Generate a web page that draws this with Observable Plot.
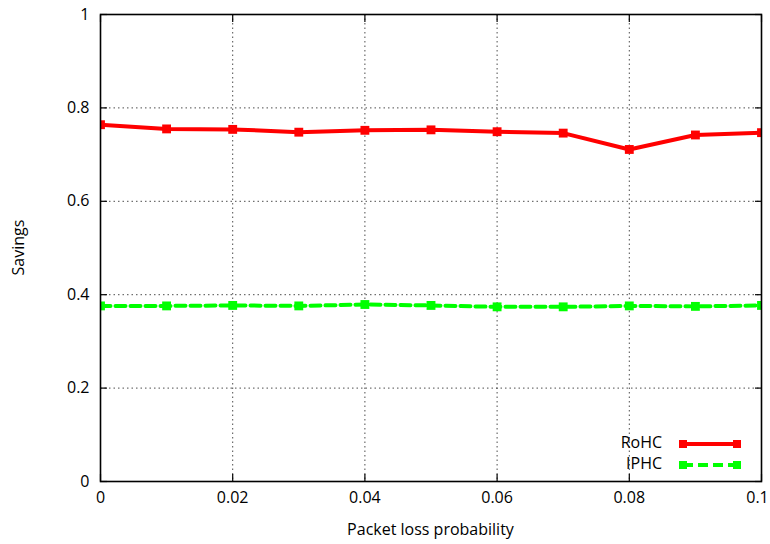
<!DOCTYPE html>
<html>
<head>
<meta charset="utf-8">
<script src="https://cdn.jsdelivr.net/npm/d3@7"></script>
<script src="https://cdn.jsdelivr.net/npm/@observablehq/plot@0.6"></script>
<style>
  html, body { margin: 0; padding: 0; background: #fff; }
  #chart { position: relative; width: 770px; height: 544px; }
  svg { font-family: "Open Sans", sans-serif; }
</style>
</head>
<body>
<div id="chart"></div>
<script>
// Packet loss probability on the x axis
const lossProbability = [0, 0.01, 0.02, 0.03, 0.04, 0.05, 0.06, 0.07, 0.08, 0.09, 0.1];
// Header compression savings per scheme
const rohcSavings = [0.764, 0.755, 0.754, 0.748, 0.752, 0.753, 0.749, 0.746, 0.711, 0.742, 0.747];
const iphcSavings = [0.376, 0.376, 0.377, 0.376, 0.379, 0.377, 0.374, 0.374, 0.376, 0.375, 0.377];

const xTicks = [0, 0.02, 0.04, 0.06, 0.08, 0.1];
const xTickLabels = ["0", "0.02", "0.04", "0.06", "0.08", "0.1"];
const yTicks = [0, 0.2, 0.4, 0.6, 0.8, 1];
const yTickLabels = ["0", "0.2", "0.4", "0.6", "0.8", "1"];

const seriesNames = ["RoHC", "IPHC"];
const seriesColors = ["#ff0000", "#00ff00"];
const seriesDash = [null, "10,5"];

const rows = [];
lossProbability.forEach((p, i) => {
  rows.push({series: "RoHC", p, v: rohcSavings[i]});
  rows.push({series: "IPHC", p, v: iphcSavings[i]});
});

const W = 770, H = 544;
const mL = 100, mR = 9, mT = 14, mB = 63;

const fmt = (ticks, labels) => d => labels[ticks.findIndex(t => Math.abs(t - d) < 1e-9)];

const chart = Plot.plot({
  width: W, height: H,
  marginLeft: mL, marginRight: mR, marginTop: mT, marginBottom: mB,
  style: {fontSize: "16px", fontFamily: "'Open Sans', sans-serif", color: "#000", background: "#fff"},
  x: {domain: [0, 0.1]},
  y: {domain: [0, 1]},
  marks: [
    Plot.gridX(xTicks, {stroke: "#000", strokeOpacity: 0.7, strokeDasharray: "1.5,3", strokeWidth: 1}),
    Plot.gridY(yTicks, {stroke: "#000", strokeOpacity: 0.7, strokeDasharray: "1.5,3", strokeWidth: 1}),
    Plot.axisX(xTicks, {tickSize: -7, tickPadding: 17, tickFormat: fmt(xTicks, xTickLabels), label: null, strokeWidth: 1.2}),
    Plot.axisX(xTicks, {anchor: "top", tickSize: -7, tickFormat: () => "", label: null, strokeWidth: 1.2}),
    Plot.axisY(yTicks, {tickSize: -7, tickPadding: 18, tickFormat: fmt(yTicks, yTickLabels), label: null, strokeWidth: 1.2}),
    Plot.axisY(yTicks, {anchor: "right", tickSize: -7, tickFormat: () => "", label: null, strokeWidth: 1.2}),
    Plot.line(rows.filter(d => d.series === "RoHC"), {x: "p", y: "v", stroke: seriesColors[0], strokeWidth: 4, clip: "frame"}),
    Plot.line(rows.filter(d => d.series === "IPHC"), {x: "p", y: "v", stroke: seriesColors[1], strokeWidth: 4, strokeDasharray: seriesDash[1], clip: "frame"}),
    Plot.dot(rows, {x: "p", y: "v", symbol: "square", r: 5, fill: d => d.series === "RoHC" ? seriesColors[0] : seriesColors[1], stroke: null, clip: "frame"}),
    Plot.frame({stroke: "#000", strokeWidth: 1.6})
  ]
});

const host = document.getElementById("chart");
host.appendChild(chart);

const svg = d3.select(chart);

// Nudge the last x tick label so it stays inside the canvas
svg.selectAll("text").filter(function () { return this.textContent === "0.1"; })
  .attr("dx", -4);

// Axis titles
svg.append("text")
  .attr("x", mL + (W - mL - mR) / 2).attr("y", 531)
  .attr("text-anchor", "middle").attr("dominant-baseline", "middle")
  .attr("font-size", 16).text("Packet loss probability");
svg.append("text")
  .attr("transform", `translate(20,${mT + (H - mT - mB) / 2}) rotate(-90)`)
  .attr("text-anchor", "middle").attr("dominant-baseline", "middle")
  .attr("font-size", 16).text("Savings");

// Key in the lower right corner
const key = svg.append("g");
seriesNames.forEach((name, i) => {
  const y = 444 + i * 21;
  key.append("text").attr("x", 662).attr("y", y)
    .attr("text-anchor", "end").attr("dominant-baseline", "middle")
    .attr("font-size", 16).text(name);
  key.append("line").attr("x1", 683).attr("x2", 737).attr("y1", y).attr("y2", y)
    .attr("stroke", seriesColors[i]).attr("stroke-width", 4)
    .attr("stroke-dasharray", seriesDash[i]);
  [683, 737].forEach(x => key.append("rect")
    .attr("x", x - 4).attr("y", y - 4).attr("width", 8).attr("height", 8)
    .attr("fill", seriesColors[i]));
});
</script>
</body>
</html>
